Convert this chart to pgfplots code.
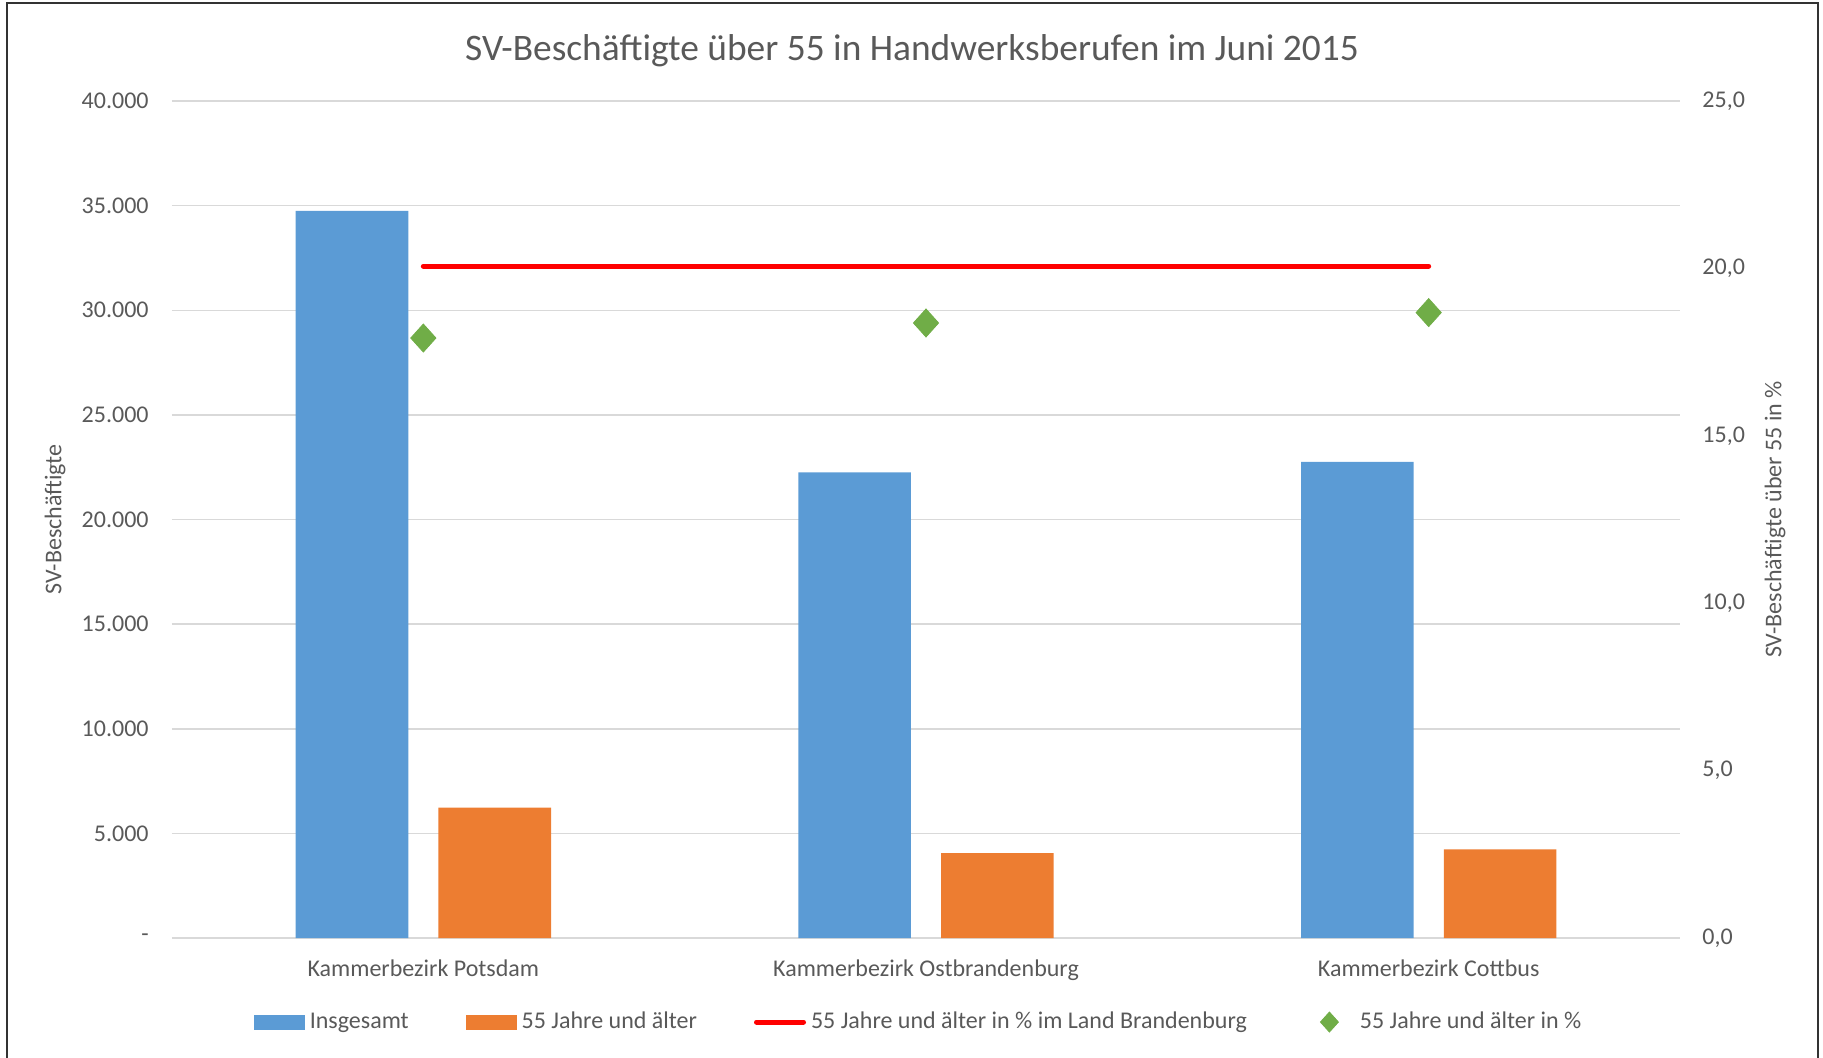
\documentclass[border=0pt]{standalone}
\usepackage{pgfplots}
\pgfplotsset{compat=1.18}
\usepackage{fontspec}
\setmainfont{Carlito}

\definecolor{bblue}{HTML}{5B9BD5}
\definecolor{borange}{HTML}{ED7D31}
\definecolor{ggreen}{HTML}{70AD47}
\definecolor{txt}{HTML}{595959}
\definecolor{gridgray}{HTML}{D9D9D9}

\pgfplotsset{
  barleg/.style={legend image code/.code={\fill[##1, draw=none] (0pt,-3.75pt) rectangle (25.5pt,3.75pt);}},
  lineleg/.style={legend image code/.code={\draw[##1, line cap=round] (1pt,0pt) -- (24.5pt,0pt);}},
  markleg/.style={legend image code/.code={\path[draw=none, fill=none] (0pt,-1pt) rectangle (25.5pt,1pt);
      \draw[##1, mark size=5pt] plot coordinates {(12.75pt,0pt)};}},
  both/.style={
    at={(0,0)}, anchor=south west, scale only axis,
    width=754pt, height=418.5pt,
    xmin=-0.5, xmax=2.5,
    axis line style={draw=none}, major tick length=0pt,
    scaled y ticks=false,
    tick label style={font=\fontsize{12}{14}\selectfont, text=txt},
  },
}

\begin{document}
\begin{tikzpicture}
\useasboundingbox (-86pt,-59.5pt) rectangle (825.5pt,469pt);
\draw[line width=1.3pt, black!80] (-82.5pt,-60pt) -- (-82.5pt,467.5pt) -- (823pt,467.5pt) -- (823pt,-60pt);

% primary axis: number of employees
\begin{axis}[both,
  ymin=0, ymax=40000,
  xtick={0,1,2},
  xticklabels={Kammerbezirk Potsdam, Kammerbezirk Ostbrandenburg, Kammerbezirk Cottbus},
  xticklabel style={anchor=base, yshift=-19.2pt, inner sep=0pt},
  ytick={0,5000,...,40000},
  yticklabels={-,5.000,10.000,15.000,20.000,25.000,30.000,35.000,40.000},
  yticklabel style={anchor=east, inner sep=0pt, xshift=-11.5pt},
  ymajorgrids, grid style={gridgray, line width=0.75pt},
  every axis y label/.style={at={([xshift=-58.5pt]axis description cs:0,0.5)}, rotate=90, anchor=center,
    font=\fontsize{12}{14}\selectfont, text=txt},
  ylabel={SV-Beschäftigte},
]
\addplot[ybar, bar width=0.224, bar shift=-0.142, fill=bblue, draw=none]
  coordinates {(0,34750) (1,22250) (2,22750)};
\addplot[ybar, bar width=0.224, bar shift=0.142, fill=borange, draw=none]
  coordinates {(0,6230) (1,4060) (2,4230)};
\end{axis}

% secondary axis: share in percent
\begin{axis}[both,
  ymin=0, ymax=25,
  hide x axis,
  ytick={0,5,...,25},
  yticklabels={{0,0},{5,0},{10,0},{15,0},{20,0},{25,0}},
  ytick pos=right, yticklabel pos=right,
  yticklabel style={anchor=west, inner sep=0pt, xshift=11pt},
  every axis y label/.style={at={([xshift=47.5pt]axis description cs:1,0.5)}, rotate=90, anchor=center,
    font=\fontsize{12}{14}\selectfont, text=txt},
  ylabel={SV-Beschäftigte über 55 in \%},
  title={SV-Beschäftigte über 55 in Handwerksberufen im Juni 2015},
  title style={at={([xshift=-7pt,yshift=19pt]axis description cs:0.5,1)}, anchor=center,
    font=\fontsize{18.7}{22}\selectfont, text=txt},
  legend columns=4,
  legend style={at={(0.4944,-0.1004)}, anchor=center, draw=none, fill=none,
    font=\fontsize{12}{14}\selectfont, text=txt,
    nodes={inner sep=0pt},
    /tikz/every odd column/.append style={column sep=2.5pt},
    /tikz/every even column/.append style={column sep=28.5pt}},
]
\addlegendimage{barleg, fill=bblue}
\addlegendentry{Insgesamt}
\addlegendimage{barleg, fill=borange}
\addlegendentry{55 Jahre und älter}
\addplot[red, line width=2.5pt, line cap=round, lineleg]
  coordinates {(0,20.07) (2,20.07)};
\addlegendentry{55 Jahre und älter in \% im Land Brandenburg}
\addplot[only marks, mark=diamond*, mark size=7pt,
  mark options={fill=ggreen, draw=ggreen, xscale=1.2}, markleg]
  coordinates {(0,17.92) (1,18.37) (2,18.68)};
\addlegendentry{55 Jahre und älter in \%}
\end{axis}
\end{tikzpicture}
\end{document}
